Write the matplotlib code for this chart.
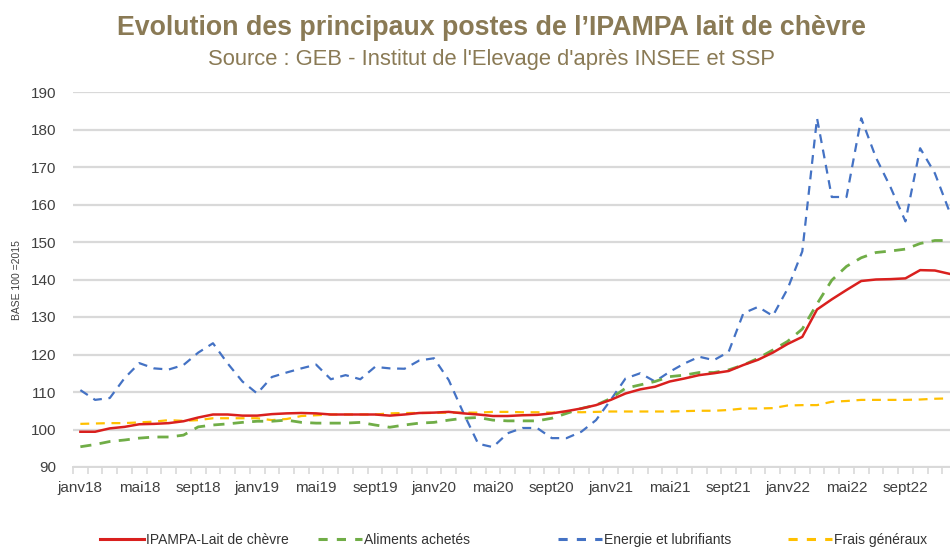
import matplotlib.pyplot as plt
from matplotlib.lines import Line2D
import numpy as np

plt.rcParams['font.family'] = ['Liberation Sans', 'DejaVu Sans']

# monthly data, janv18 -> dec22
months = [m + str(y) for y in range(18, 23)
          for m in ['janv', 'févr', 'mars', 'avr', 'mai', 'juin', 'juil', 'août',
                    'sept', 'oct', 'nov', 'déc']]

ipampa = [99.4, 99.4, 100.3, 100.7, 101.4, 101.5, 101.7, 102.2, 103.2, 104.0, 104.0, 103.7,
          103.7, 104.1, 104.3, 104.4, 104.3, 104.0, 104.0, 104.0, 104.0, 103.7, 104.0, 104.4,
          104.5, 104.7, 104.3, 104.0, 103.6, 103.6, 103.8, 103.9, 104.3, 104.9, 105.6, 106.5,
          107.9, 109.6, 110.7, 111.4, 112.8, 113.6, 114.5, 115.0, 115.6, 117.2, 118.6, 120.5,
          122.8, 124.7, 132.0, 134.7, 137.2, 139.6, 140.0, 140.1, 140.3, 142.5, 142.4, 141.5]

aliments = [95.4, 96.0, 96.8, 97.2, 97.7, 98.0, 98.0, 98.5, 100.7, 101.2, 101.5, 101.9,
            102.2, 102.2, 102.5, 101.9, 101.7, 101.7, 101.7, 101.9, 101.2, 100.6, 101.2, 101.7,
            101.9, 102.5, 103.0, 103.2, 102.5, 102.3, 102.3, 102.3, 103.0, 104.3, 105.6, 106.5,
            108.3, 111.0, 111.9, 112.8, 114.1, 114.5, 115.2, 115.2, 115.9, 117.2, 119.0, 121.2,
            123.5, 126.8, 133.5, 139.8, 143.5, 145.8, 147.2, 147.6, 148.1, 149.6, 150.4, 150.4]

energie = [110.5, 107.9, 108.4, 113.7, 117.7, 116.3, 116.0, 117.2, 120.5, 123.0, 117.6, 112.8,
           109.6, 114.0, 115.2, 116.3, 117.3, 113.4, 114.5, 113.4, 116.7, 116.3, 116.2, 118.4,
           119.0, 113.2, 104.4, 96.2, 95.3, 99.0, 100.4, 100.4, 97.7, 97.7, 99.4, 102.5,
           107.9, 113.6, 115.0, 112.8, 115.4, 117.6, 119.4, 118.5, 120.7, 131.0, 132.7, 130.3,
           137.5, 147.5, 183.0, 162.0, 162.0, 183.0, 172.5, 164.5, 155.5, 175.0, 168.3, 158.0]

frais = [101.5, 101.6, 101.7, 101.7, 101.9, 102.1, 102.5, 102.3, 102.5, 103.0, 103.0, 103.0,
         103.0, 102.5, 102.8, 103.6, 103.8, 104.0, 104.0, 104.0, 104.0, 104.3, 104.4, 104.4,
         104.4, 104.5, 104.5, 104.5, 104.7, 104.7, 104.6, 104.6, 104.5, 104.7, 104.6, 104.7,
         104.8, 104.8, 104.8, 104.8, 104.8, 104.9, 105.0, 105.0, 105.2, 105.6, 105.6, 105.7,
         106.4, 106.5, 106.5, 107.4, 107.6, 107.9, 107.9, 107.9, 107.9, 108.0, 108.2, 108.3]

x = np.arange(len(months))

fig = plt.figure(figsize=(9.5, 5.47), dpi=100)
ax = fig.add_axes([73 / 950, 80 / 547, 884 / 950, 375 / 547])

ax.plot(x, frais, color='#FFC000', lw=1.6, dashes=(4, 3), label='Frais généraux', zorder=3)
ax.plot(x, energie, color='#4472C4', lw=1.6, dashes=(4, 3), label='Energie et lubrifiants', zorder=4)
ax.plot(x, aliments, color='#70AD47', lw=2.0, dashes=(4, 3), label='Aliments achetés', zorder=5)
ax.plot(x, ipampa, color='#D9201E', lw=1.8, label='IPAMPA-Lait de chèvre', zorder=6)

ax.set_xlim(-0.5, len(months) - 0.5)
ax.set_ylim(90, 190)
ax.set_yticks(np.arange(90, 191, 10))
ax.grid(axis='y', color='#d9d9d9', lw=1.6)
ax.set_axisbelow(True)

ax.set_xticks(x[::4])
ax.set_xticklabels(months[::4])
ax.set_xticks(np.arange(-0.5, len(months), 1), minor=True)
ax.tick_params(axis='x', which='major', length=0, pad=10, labelsize=11, labelcolor='#404040')
ax.tick_params(axis='x', which='minor', length=5, color='#d9d9d9', width=1.2)
ax.tick_params(axis='y', length=0, pad=12, labelsize=11, labelcolor='#404040')

for s in ['top', 'right', 'left']:
    ax.spines[s].set_visible(False)
ax.spines['bottom'].set_color('#d9d9d9')
ax.spines['bottom'].set_linewidth(1.4)

fig.text(17 / 950, 1 - 280 / 547, 'BASE 100 =2015', rotation=90, ha='center', va='center',
         fontsize=7.5, color='#404040')

fig.text(491 / 950, 1 - 28 / 547, 'Evolution des principaux postes de l\u2019IPAMPA lait de chèvre',
         ha='center', va='center', fontsize=19.3, fontweight='bold', color='#8a7a55')
fig.text(491 / 950, 1 - 59 / 547, "Source : GEB - Institut de l'Elevage d'après INSEE et SSP",
         ha='center', va='center', fontsize=15.8, color='#8a7a55')

handles, labels = ax.get_legend_handles_labels()
order = [3, 2, 1, 0]
xpos = [100, 318, 558, 788]
for k, xp in zip(order, xpos):
    h = handles[k]
    if k == 3:
        proxy = Line2D([], [], color=h.get_color(), lw=2.2)
    else:
        proxy = Line2D([], [], color=h.get_color(), lw=2.2, dashes=(3, 3))
    fig.legend([proxy], [labels[k]], loc='center left', bbox_to_anchor=(xp / 950, 1 - 540 / 547),
               frameon=False, fontsize=10, handlelength=3.2, handletextpad=0.1,
               borderaxespad=0, borderpad=0, labelcolor='#333333')

fig.savefig('out.png', dpi=100)
